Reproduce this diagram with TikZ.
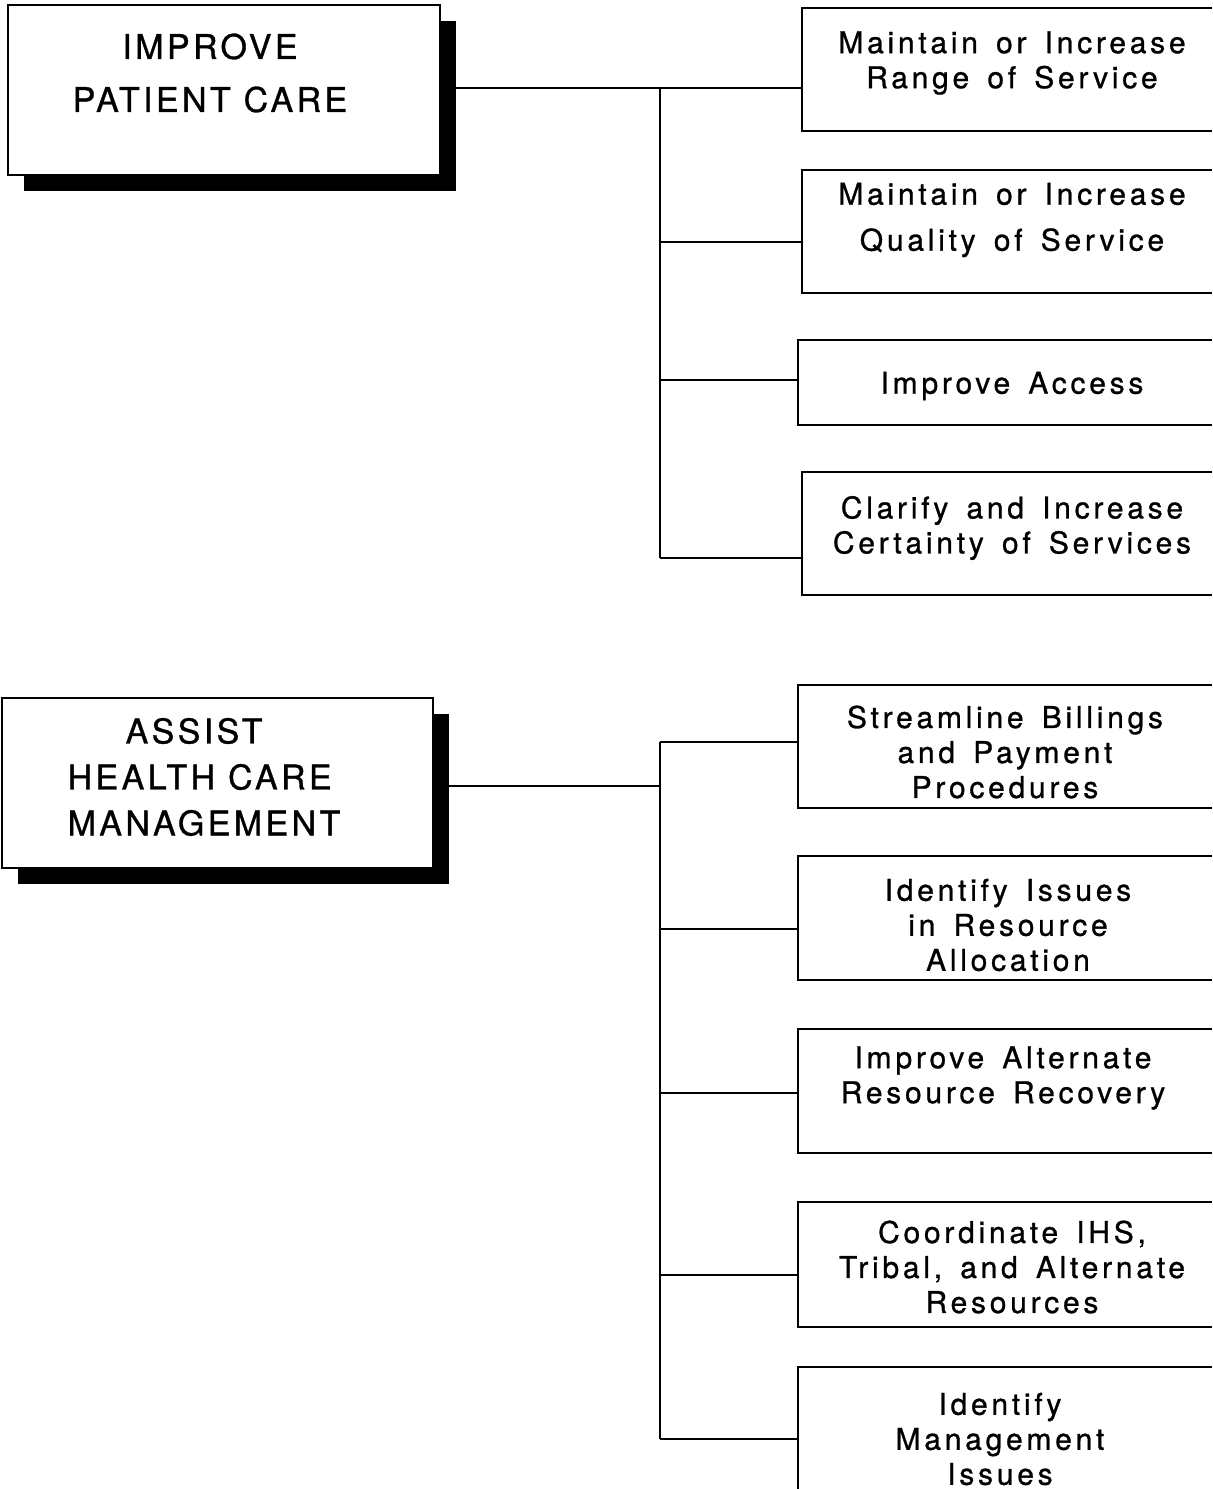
\documentclass[tikz,border=0pt]{standalone}
\usepackage{fontspec}
\usetikzlibrary{shadows}
\newfontfamily\bigfont[LetterSpace=10,FakeBold=0.9]{TeX Gyre Heros}
\newfontfamily\smallfont[LetterSpace=12.5,WordSpace=1.5,FakeBold=0.9]{TeX Gyre Heros}
\begin{document}
\begin{tikzpicture}[x=0.5pt,y=-0.5pt,
  mainbox/.style={draw, line width=1pt, fill=white, inner sep=0pt, outer sep=0pt, anchor=north west,
    drop shadow={shadow xshift=8pt, shadow yshift=-8pt, fill=black, opacity=1}},
  subbox/.style={inner sep=0pt, outer sep=0pt, anchor=north west},
  side/.style={line width=0.9pt},
  bigtxt/.style={font=\bigfont\fontsize{17}{26.5}\selectfont, align=center, inner sep=0pt},
  smalltxt/.style={font=\smallfont\fontsize{15}{17.5}\selectfont, align=center, inner sep=0pt},
  link/.style={line width=0.7pt}
]
\useasboundingbox (0,0) rectangle (1212,1489);

% ---- main boxes ----
\node[mainbox, minimum width=216pt, minimum height=85pt] (p1) at (8,5) {};
\node[bigtxt] (p1t) at (210,73) {IMPROVE\\PATIENT CARE};

\node[mainbox, minimum width=215.5pt, minimum height=85pt] (p2) at (2,698) {};
\node[bigtxt, align=left, font=\bigfont\fontsize{17}{23}\selectfont] (p2t) at (204,777) {\hspace*{29pt}ASSIST\\HEALTH CARE\\MANAGEMENT};

% ---- sub boxes (open to the right) ----
\node[subbox, minimum width=205pt, minimum height=61.5pt] (b1) at (802,8) {};
\node[subbox, minimum width=205pt, minimum height=61.5pt] (b2) at (802,170) {};
\node[subbox, minimum width=207pt, minimum height=42.5pt] (b3) at (798,340) {};
\node[subbox, minimum width=205pt, minimum height=61.5pt] (b4) at (802,472) {};

\node[subbox, minimum width=207pt, minimum height=61.5pt] (c1) at (798,685) {};
\node[subbox, minimum width=207pt, minimum height=62pt] (c2) at (798,856) {};
\node[subbox, minimum width=207pt, minimum height=62pt] (c3) at (798,1029) {};
\node[subbox, minimum width=207pt, minimum height=62.5pt] (c4) at (798,1202) {};
\node[subbox, minimum width=207pt, minimum height=70pt] (c5) at (798,1367) {};

\foreach \b in {b1,b2,b3,b4,c1,c2,c3,c4}
  \draw[side] (\b.north east) -- (\b.north west) -- (\b.south west) -- (\b.south east);
\draw[side] (c5.north east) -- (c5.north west) -- (c5.south west);

% ---- sub box texts ----
\node[smalltxt] (b1t) at (1012,63) {Maintain or Increase\\Range of Service};
\node[smalltxt] (b2t) at (1012,220) {Maintain or Increase\\[5.5pt]Quality of Service};
\node[smalltxt] (b3t) at (1012,386) {Improve Access};
\node[smalltxt] (b4t) at (1012,528) {Clarify and Increase\\Certainty of Services};

\node[smalltxt] (c1t) at (1005,752) {Streamline Billings\\and Payment\\Procedures};
\node[smalltxt] (c2t) at (1008,925) {Identify Issues\\in Resource\\Allocation};
\node[smalltxt] (c3t) at (1003,1078) {Improve Alternate\\Resource Recovery};
\node[smalltxt] (c4t) at (1012,1267) {Coordinate IHS,\\Tribal, and Alternate\\Resources};
\node[smalltxt] (c5t) at (1000,1439) {Identify\\Management\\Issues};

% ---- connectors: top group ----
\coordinate (ja1) at (660,88);
\coordinate (ja2) at (660,242);
\coordinate (ja3) at (660,380);
\coordinate (ja4) at (660,558);
\draw[link] ([xshift=8pt]p1.east |- ja1) -- (b1.west |- ja1);
\draw[link] (ja1) -- (ja4);
\draw[link] (ja2) -- (b2.west |- ja2);
\draw[link] (ja3) -- (b3.west |- ja3);
\draw[link] (ja4) -- (b4.west |- ja4);

% ---- connectors: bottom group ----
\coordinate (jb0) at (660,786);
\coordinate (jb1) at (660,742);
\coordinate (jb2) at (660,929);
\coordinate (jb3) at (660,1093);
\coordinate (jb4) at (660,1275);
\coordinate (jb5) at (660,1439);
\draw[link] ([xshift=8pt]p2.east |- jb0) -- (jb0);
\draw[link] (jb1) -- (jb5);
\draw[link] (jb1) -- (c1.west |- jb1);
\draw[link] (jb2) -- (c2.west |- jb2);
\draw[link] (jb3) -- (c3.west |- jb3);
\draw[link] (jb4) -- (c4.west |- jb4);
\draw[link] (jb5) -- (c5.west |- jb5);
\end{tikzpicture}
\end{document}
